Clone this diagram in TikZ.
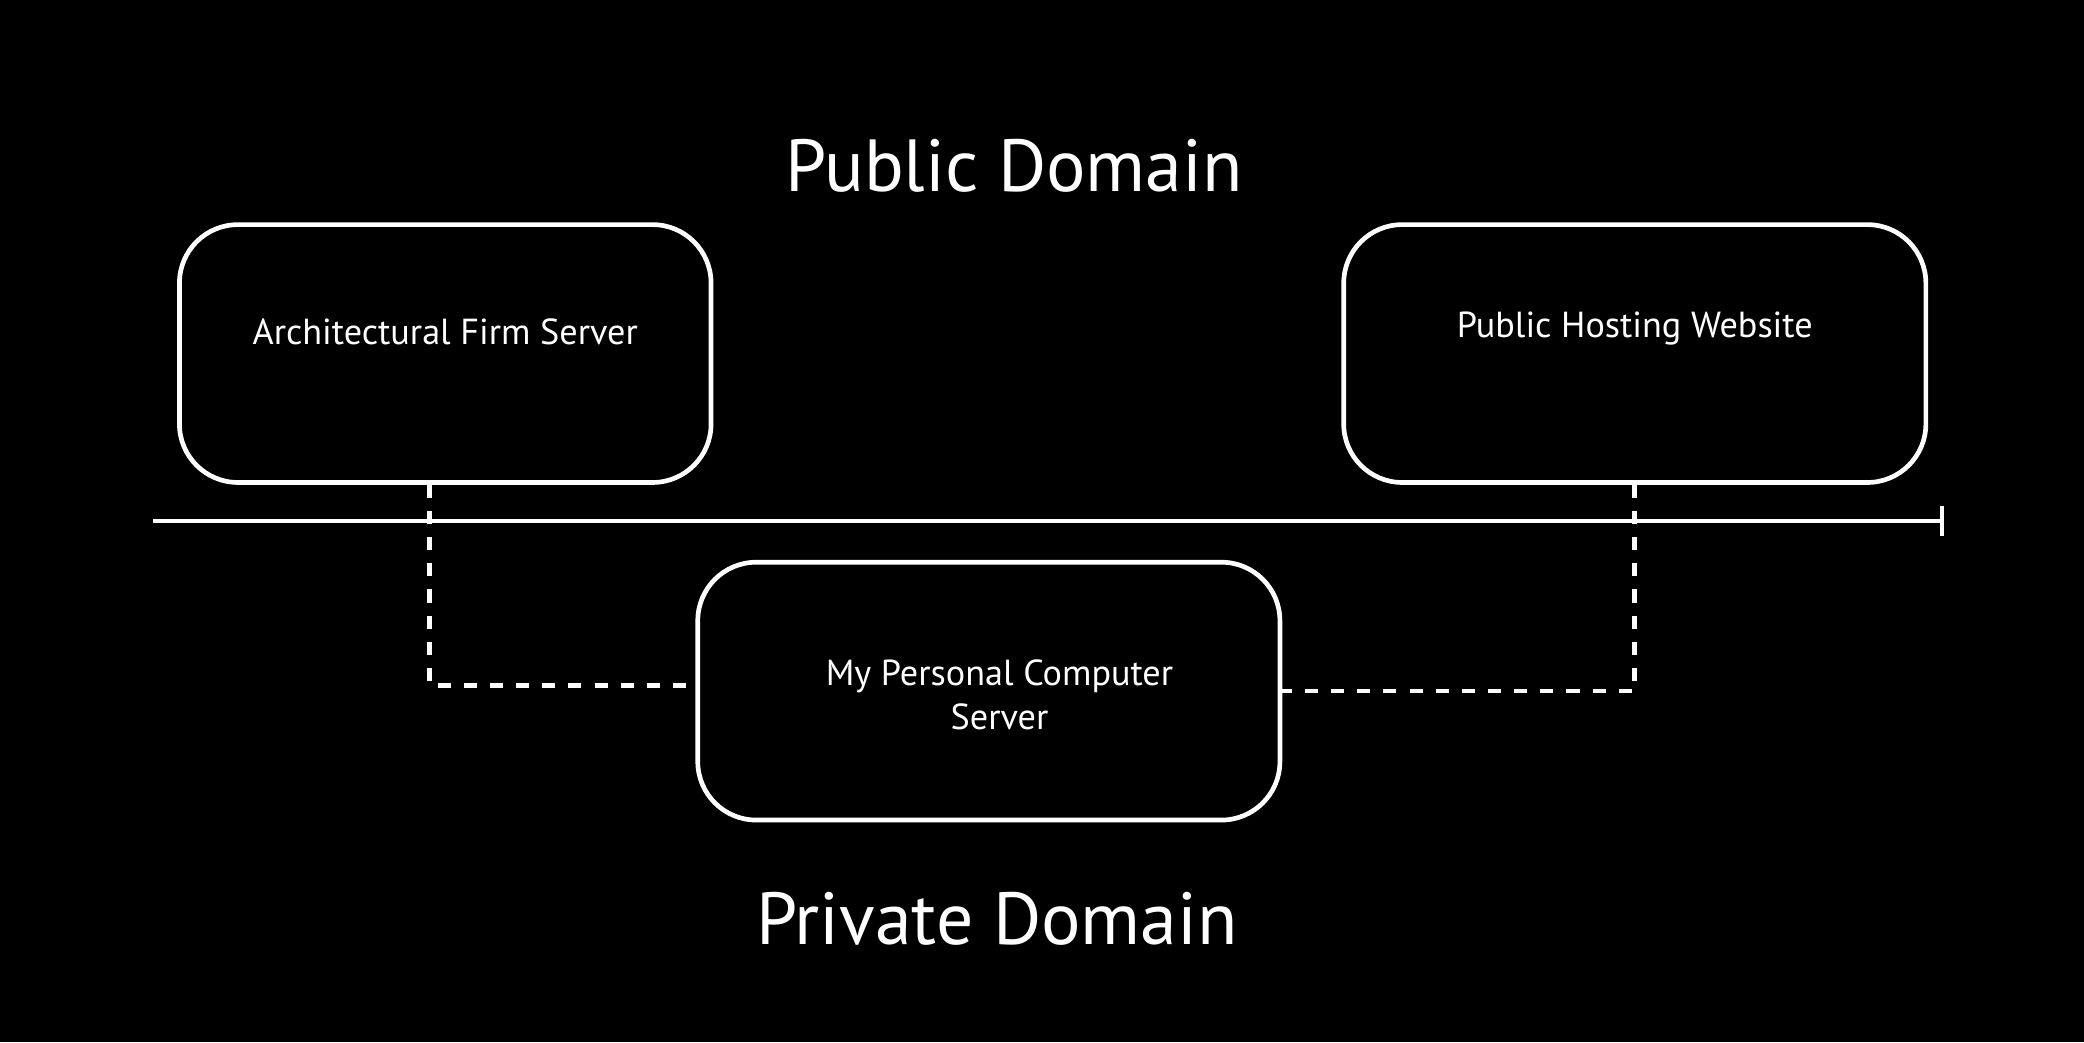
\documentclass[tikz,border=0pt]{standalone}
\usepackage{fontspec}
\setmainfont{PT Sans}
\usetikzlibrary{arrows.meta}

\begin{document}
\begin{tikzpicture}[
    srvbox/.style={draw=white, line width=1pt, rounded corners=0.44cm, minimum width=4.0cm, minimum height=1.94cm},
    srvtext/.style={text=white, font=\fontsize{7.75}{9.5}\selectfont, align=center},
    domtext/.style={text=white, font=\fontsize{15.8}{18}\selectfont},
    link/.style={draw=white, line width=1pt, dash pattern=on 2.8pt off 2.8pt}
  ]
      \fill[black] (0, 0) rectangle (15.68, 7.84);

      \node[domtext] (pub) at (7.63, 6.59) {Public Domain};
      \node[domtext] (priv) at (7.50, 0.93) {Private Domain};

      \node[srvbox] (firm) at (3.35, 5.18) {};
      \node[srvbox, minimum width=4.38cm] (host) at (12.30, 5.18) {};
      \node[srvbox, minimum width=4.38cm] (pc) at (7.44, 2.64) {};

      \node[srvtext] (firmlbl) at ([yshift=0.16cm]firm.center) {Architectural Firm Server};
      \node[srvtext] (hostlbl) at ([yshift=0.19cm]host.center) {Public Hosting Website};
      \node[srvtext] (pclbl) at ([xshift=0.08cm, yshift=-0.03cm]pc.center) {My Personal Computer\\Server};

      \coordinate (lstart) at (1.15, 3.92);
      \coordinate (lend) at (14.63, 3.92);
      \draw[white, line width=1pt, -{Bar[width=2.2mm]}] (lstart) -- (lend);

      \draw[link] ([xshift=-0.12cm]firm.south) |- ([yshift=0.04cm]pc.west);
      \draw[link] (host.south) |- (pc.east);
\end{tikzpicture}
\end{document}
